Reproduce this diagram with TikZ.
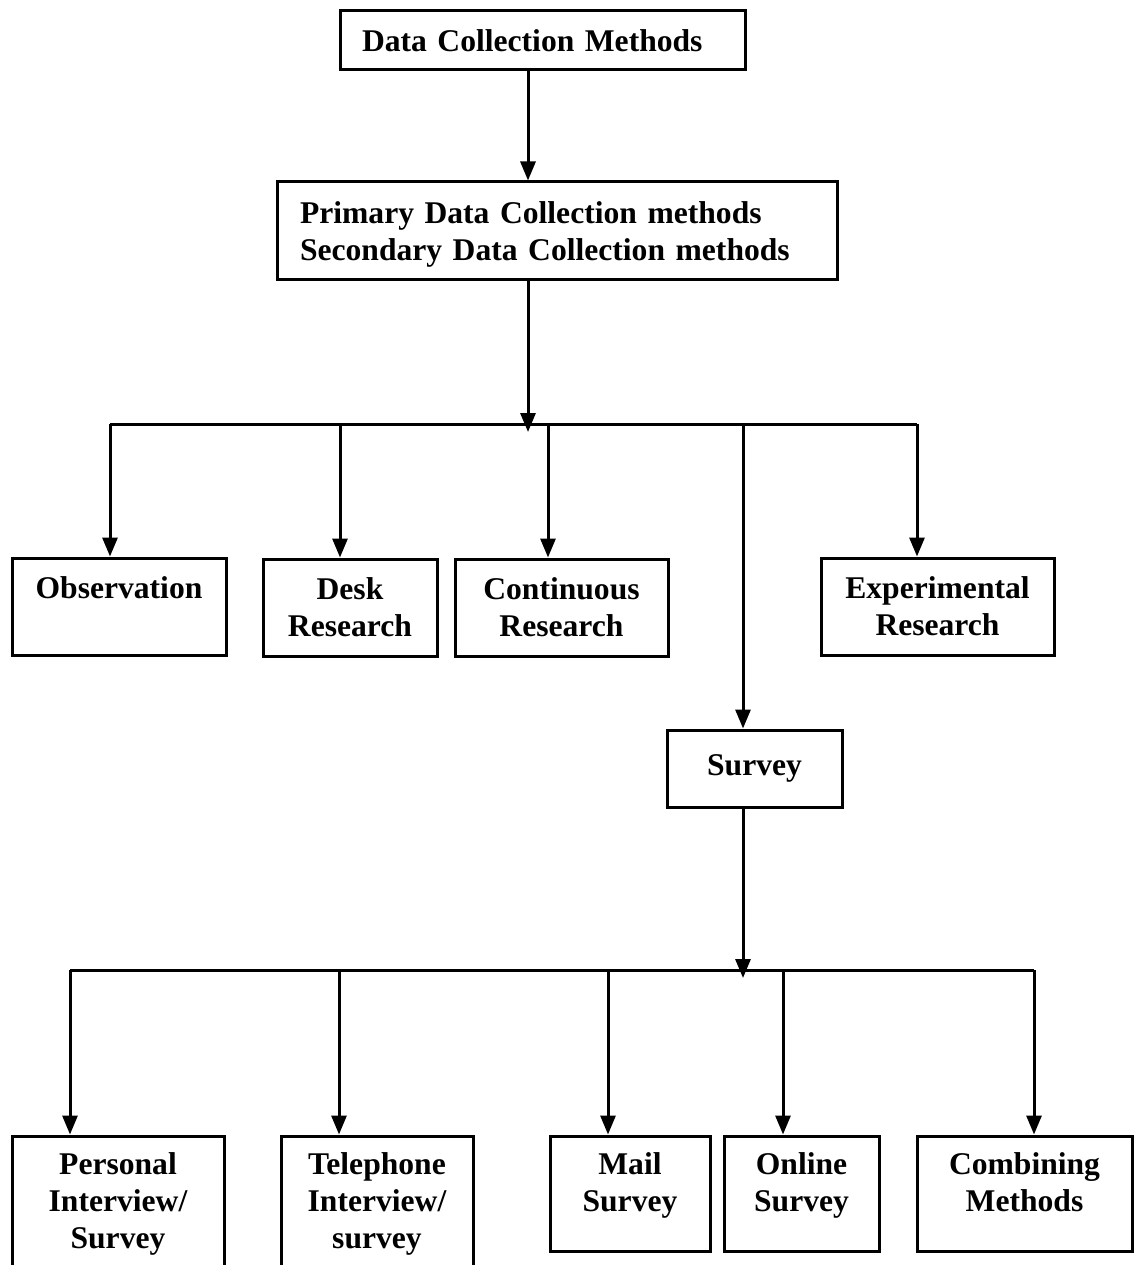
\documentclass[tikz,border=0pt]{standalone}
\usepackage{fontspec}
\setmainfont{Liberation Serif}
\usetikzlibrary{arrows.meta}
\newcommand\boxfont{\fontsize{31.6}{37}\selectfont\bfseries}
\tikzset{
  box/.style={draw, line width=3pt, inner sep=0pt, font=\boxfont, align=center},
  conn/.style={line width=3pt},
  arr/.style={conn, -{Triangle[length=19pt,width=15pt]}},
}
\begin{document}
\begin{tikzpicture}[x=1pt,y=-1pt]
\useasboundingbox (0,0) rectangle (1137,1265);

% top levels
\node[box, minimum width=405pt, minimum height=59pt, text width=361pt, inner xsep=22pt, align=left] (top) at (542.5,40.5) {Data Collection Methods};
\node[box, minimum width=560pt, minimum height=97pt, text width=514pt, inner xsep=23pt, align=left, text height=30pt] (prim) at (557,230.5)
  {Primary Data Collection methods\\Secondary Data Collection methods};

% method boxes
\node[box, minimum width=214pt, minimum height=97pt, text depth=37pt] (obs) at (119,606.5) {Observation};
\node[box, minimum width=174pt, minimum height=97pt] (desk) at (350,607.5) {Desk\\Research};
\node[box, minimum width=213pt, minimum height=97pt] (cont) at (561.5,607.5) {Continuous\\Research};
\node[box, minimum width=233pt, minimum height=97pt] (exp) at (937.5,606.5) {Experimental\\Research};
\node[box, minimum width=175pt, minimum height=77pt] (surv) at (754.5,768.5) {Survey};

% survey types
\node[box, minimum width=212pt, minimum height=136pt] (pers) at (118,1204) {Personal\\Interview/\\Survey};
\node[box, minimum width=192pt, minimum height=136pt] (tel) at (377,1204) {Telephone\\Interview/\\survey};
\node[box, minimum width=160pt, minimum height=115pt, text depth=22pt] (mail) at (630,1193.5) {Mail\\Survey};
\node[box, minimum width=155pt, minimum height=115pt, text depth=22pt] (onl) at (801.5,1193.5) {Online\\Survey};
\node[box, minimum width=215pt, minimum height=115pt, text depth=22pt] (comb) at (1024.5,1193.5) {Combining\\Methods};

% junction points
\coordinate (j1) at (528,432);
\coordinate (h1l) at (110,424);
\coordinate (h1r) at (917,424);
\coordinate (j2) at (743,978);
\coordinate (h2l) at (70,970);
\coordinate (h2r) at (1034,970);

% connectors
\draw[arr] (top.south -| 528,0) -- (prim.north -| 528,0);
\draw[arr] (prim.south -| j1) -- (j1);
\draw[conn] (h1l) -- (h1r);
\draw[arr] (h1l) -- (obs.north -| h1l);
\draw[arr] (340,424) coordinate (d2) -- (desk.north -| d2);
\draw[arr] (548,424) coordinate (d3) -- (cont.north -| d3);
\draw[arr] (743,424) coordinate (d4) -- (surv.north -| d4);
\draw[arr] (h1r) -- (exp.north -| h1r);

\draw[arr] (surv.south -| j2) -- (j2);
\draw[conn] (h2l) -- (h2r);
\draw[arr] (h2l) -- (pers.north -| h2l);
\draw[arr] (339,970) coordinate (e2) -- (tel.north -| e2);
\draw[arr] (608,970) coordinate (e3) -- (mail.north -| e3);
\draw[arr] (783,970) coordinate (e4) -- (onl.north -| e4);
\draw[arr] (h2r) -- (comb.north -| h2r);
\end{tikzpicture}
\end{document}
